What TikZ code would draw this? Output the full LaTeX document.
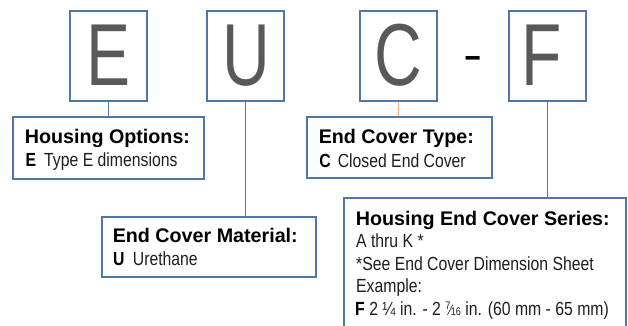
\documentclass[tikz,border=0pt]{standalone}
\usepackage{fontspec}
\setmainfont{Liberation Sans}
\newfontfamily\condfont[FakeStretch=0.83]{Liberation Sans}
\newfontfamily\bigfont[FakeStretch=0.75]{Liberation Sans}
\definecolor{boxblue}{RGB}{79,119,168}
\definecolor{connorange}{RGB}{247,180,110}
\definecolor{lettergray}{RGB}{89,89,89}
\definecolor{bodytext}{RGB}{30,30,30}
\newcommand{\sevensixteenths}{\raisebox{5.5pt}{\fontsize{11}{11}\selectfont 7}\kern-0.8pt{\fontsize{15}{15}\selectfont ⁄}\kern-0.8pt{\fontsize{11}{11}\selectfont 16}}
\begin{document}
\begin{tikzpicture}[x=1pt,y=-1pt,
  letterbox/.style={draw=boxblue, line width=1.1pt, inner sep=0pt, minimum width=77pt, minimum height=90pt},
  descbox/.style={draw=boxblue, line width=1.1pt, inner sep=0pt},
  bigletter/.style={anchor=base, inner sep=0pt, text=lettergray, font=\bigfont\fontsize{88}{88}\selectfont},
  titletext/.style={anchor=base west, inner sep=0pt, font=\fontsize{19.7}{20}\selectfont\bfseries},
  bodyline/.style={anchor=base west, inner sep=0pt, text=bodytext, font=\condfont\fontsize{19}{20}\selectfont},
  link/.style={draw=boxblue, line width=1.1pt},
]
\useasboundingbox (0,0) rectangle (628,326);
\clip (0,0) rectangle (628,326);

% letter boxes
\node[letterbox] (bE) at (108.5,56) {};
\node[letterbox] (bU) at (245.5,56) {};
\node[letterbox] (bC) at (398.5,56) {};
\node[letterbox] (bF) at (547.5,56) {};

\node[bigletter] (lE) at (108.5,85) {E};
\node[bigletter] (lU) at (246.5,85) {U};
\node[bigletter] (lC) at (398,85) {C};
\node[bigletter] (lF) at (541.5,85) {F};

\node[anchor=base, inner sep=0pt] (dash) at (473.5,71) {\scalebox{1.25}[1]{\fontsize{46}{46}\selectfont -}};

% description boxes
\node[descbox, minimum width=191pt, minimum height=62pt] (hopt) at (108.5,148) {};
\node[descbox, minimum width=214pt, minimum height=60pt] (mat) at (209,247) {};
\node[descbox, minimum width=185pt, minimum height=61pt] (typ) at (399.5,147.5) {};
\node[descbox, minimum width=282pt, minimum height=142pt] (ser) at (485,269) {};

% connectors
\draw[link] (bE.south) -- (bE.south |- hopt.north);
\draw[link] (bU.south) -- (bU.south |- mat.north);
\draw[link, draw=connorange] (bC.south) -- (bC.south |- typ.north);
\draw[link] (bF.south) -- (bF.south |- ser.north);

% texts
\node[titletext] (tHo) at (24.6,143) {Housing Options:};
\node[bodyline] (bHo) at (25.5,166.5) {\textbf{\color{black}E}\hspace{8pt}Type E dimensions};

\node[titletext] (tMa) at (112.6,242) {End Cover Material:};
\node[bodyline] (bMa) at (112.8,265) {\textbf{\color{black}U}\hspace{8.5pt}Urethane};

\node[titletext] (tTy) at (318.6,143) {End Cover Type:};
\node[bodyline] (bTy) at (319.2,167) {\textbf{\color{black}C}\hspace{7pt}Closed End Cover};

\node[titletext] (tSe) at (355.6,225) {Housing End Cover Series:};
\node[bodyline] (bSe1) at (356,247.5) {A thru K *};
\node[bodyline] (bSe2) at (356,270) {*See End Cover Dimension Sheet};
\node[bodyline] (bSe3) at (356,292.5) {Example:};
\node[bodyline] (bSe4) at (355,315) {\textbf{\color{black}F}\hspace{4.5pt}2 ¼ in. - 2 \sevensixteenths\ in. (60 mm - 65 mm)};
\end{tikzpicture}
\end{document}
